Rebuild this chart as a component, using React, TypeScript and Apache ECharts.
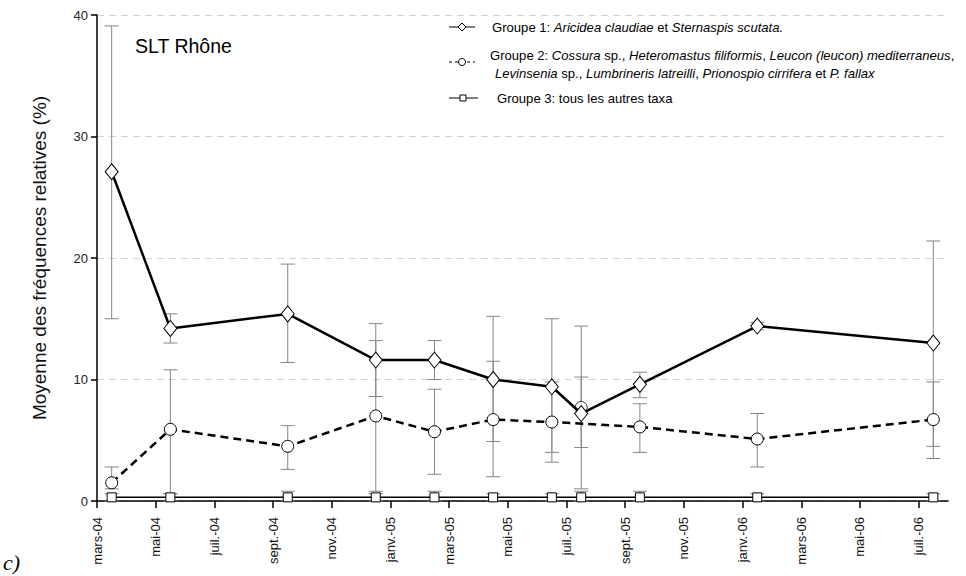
import React, { useEffect, useRef } from "react";
import * as echarts from "echarts";

// Sampling months (plotted at mid-month), month index 0 = mars-04
const sampleMonths = ["2004-03", "2004-05", "2004-09", "2004-12", "2005-02", "2005-04", "2005-06", "2005-07", "2005-09", "2006-01", "2006-07"];

const g1Mean = [27.1, 14.2, 15.4, 11.6, 11.6, 10.0, 9.4, 7.2, 9.6, 14.4, 13.0];
const g1Low = [15.0, 13.0, 11.4, 8.6, 10.0, 4.9, 4.0, 4.4, 8.5, 14.1, 4.5];
const g1High = [39.1, 15.4, 19.5, 14.6, 13.2, 15.2, 15.0, 10.2, 10.6, 14.7, 21.4];

const g2Mean = [1.5, 5.9, 4.5, 7.0, 5.7, 6.7, 6.5, 7.7, 6.1, 5.1, 6.7];
const g2Low = [1.0, 0.6, 2.6, 0.8, 2.2, 2.0, 3.2, 1.0, 4.0, 2.8, 3.5];
const g2High = [2.8, 10.8, 6.2, 13.2, 9.2, 11.5, 9.8, 14.4, 8.0, 7.2, 9.8];
// whether each group-2 point is joined by the dashed line
const g2Joined = [true, true, true, true, true, true, true, false, true, true, true];

const g3Mean = [0.3, 0.3, 0.3, 0.3, 0.3, 0.3, 0.3, 0.3, 0.3, 0.3, 0.3];
const g3Low = [0, 0, 0, 0, 0, 0, 0, 0, 0, 0, 0];
const g3High = [0.6, 0.6, 0.8, 0.6, 0.8, 0.6, 0.6, 0.8, 0.8, 0.6, 0.6];

const xTickLabels = ["mars-04", "mai-04", "juil.-04", "sept.-04", "nov.-04", "janv.-05", "mars-05", "mai-05", "juil.-05", "sept.-05", "nov.-05", "janv.-06", "mars-06", "mai-06", "juil.-06"];
const yTicks = [0, 10, 20, 30, 40];

const FONT = "Liberation Sans, Arial, sans-serif";
const LEG = 13.1;

function monthPos(ym: string): number {
  const [y, m] = ym.split("-").map(Number);
  return (y - 2004) * 12 + (m - 3) + 0.5;
}

export default function App() {
  const ref = useRef<HTMLDivElement>(null);
  useEffect(() => {
    document.body.style.margin = "0";
    if (!ref.current) return;
    const chart = echarts.init(ref.current, null, { renderer: "svg" });
    const xs = sampleMonths.map(monthPos);
    const errData = (lo: number[], hi: number[]) => xs.map((x, i) => [x, lo[i], hi[i]]);
    const allErr = [...errData(g1Low, g1High), ...errData(g2Low, g2High), ...errData(g3Low, g3High)];
    const tickVals = xTickLabels.map((_, i) => i * 2);

    const errSeries = {
      type: "custom",
      z: 1,
      silent: true,
      data: allErr,
      encode: { x: 0, y: [1, 2] },
      renderItem: (params: any, api: any) => {
        const x = api.value(0);
        const pHi = api.coord([x, api.value(2)]);
        const pLo = api.coord([x, api.value(1)]);
        const hw = 7;
        const st = { stroke: "#858585", lineWidth: 1 };
        return {
          type: "group",
          children: [
            { type: "line", shape: { x1: pHi[0], y1: pHi[1], x2: pLo[0], y2: pLo[1] }, style: st },
            { type: "line", shape: { x1: pHi[0] - hw, y1: pHi[1], x2: pHi[0] + hw, y2: pHi[1] }, style: st },
            { type: "line", shape: { x1: pLo[0] - hw, y1: pLo[1], x2: pLo[0] + hw, y2: pLo[1] }, style: st },
          ],
        };
      },
    };

    const markerStyle = { color: "#fff", borderColor: "#000", borderWidth: 1 };
    const italic = { i: { fontStyle: "italic", fontSize: LEG, fontFamily: FONT, fill: "#000" } };

    const option: any = {
      animation: false,
      grid: { left: 97, right: 18, top: 15, bottom: 75 },
      xAxis: {
        type: "value",
        min: 0,
        max: 29,
        interval: 2,
        axisLine: { lineStyle: { color: "#000", width: 1.5 } },
        axisTick: { length: 7, lineStyle: { color: "#000", width: 1.5 }, customValues: tickVals },
        axisLabel: {
          rotate: 90,
          margin: 16,
          fontSize: 13,
          fontFamily: FONT,
          color: "#111",
          customValues: tickVals,
          formatter: (v: number) => xTickLabels[Math.round(v / 2)] ?? "",
        },
        splitLine: { show: false },
      },
      yAxis: {
        type: "value",
        min: 0,
        max: 40,
        interval: 10,
        name: "Moyenne des fréquences relatives (%)",
        nameLocation: "middle",
        nameGap: 48,
        nameTextStyle: { fontSize: 19, fontFamily: FONT, color: "#111" },
        axisLine: { show: true, lineStyle: { color: "#000", width: 1.5 } },
        axisTick: { show: true, length: 6, lineStyle: { color: "#000", width: 1.5 } },
        axisLabel: { fontSize: 13, fontFamily: FONT, color: "#222", margin: 9, customValues: yTicks },
        splitLine: { show: true, lineStyle: { color: "#d4d4d4", type: [7, 5], width: 1 } },
      },
      series: [
        errSeries,
        {
          name: "Groupe 3",
          type: "line",
          z: 2,
          data: xs.map((x, i) => [x, g3Mean[i]]),
          symbol: "rect",
          symbolSize: 9,
          itemStyle: markerStyle,
          lineStyle: { color: "#000", width: 1.5 },
        },
        {
          name: "Groupe 2",
          type: "line",
          z: 3,
          connectNulls: true,
          data: xs.map((x, i) => (g2Joined[i] ? [x, g2Mean[i]] : [x, null])),
          symbol: "circle",
          symbolSize: 12,
          itemStyle: markerStyle,
          lineStyle: { color: "#000", width: 2.5, type: [8, 5] },
        },
        {
          name: "Groupe 2 (isolé)",
          type: "scatter",
          z: 3,
          data: xs.map((x, i) => [x, g2Mean[i]]).filter((_, i) => !g2Joined[i]),
          symbol: "circle",
          symbolSize: 12,
          itemStyle: markerStyle,
        },
        {
          name: "Groupe 1",
          type: "line",
          z: 4,
          data: xs.map((x, i) => [x, g1Mean[i]]),
          symbol: "diamond",
          symbolSize: [13, 16],
          itemStyle: markerStyle,
          lineStyle: { color: "#000", width: 2.5 },
        },
      ],
      graphic: [
        { type: "text", left: 135, top: 36, style: { text: "SLT Rhône", fontSize: 19.5, fontFamily: FONT, fill: "#000" } },
        // legend row 1
        { type: "line", shape: { x1: 449, y1: 27, x2: 475, y2: 27 }, style: { stroke: "#000", lineWidth: 1 } },
        { type: "polygon", shape: { points: [[462, 23], [466, 27], [462, 31], [458, 27]] }, style: { fill: "#fff", stroke: "#000", lineWidth: 1 } },
        {
          type: "text", x: 492, y: 27,
          style: {
            text: "Groupe 1: {i|Aricidea claudiae} et {i|Sternaspis scutata.}",
            fontSize: LEG, fontFamily: FONT, fill: "#000", verticalAlign: "middle", rich: italic,
          },
        },
        // legend row 2
        { type: "line", shape: { x1: 449, y1: 62, x2: 475, y2: 62 }, style: { stroke: "#000", lineWidth: 1, lineDash: [3, 3] } },
        { type: "circle", shape: { cx: 462, cy: 62, r: 3.5 }, style: { fill: "#fff", stroke: "#000", lineWidth: 1 } },
        {
          type: "text", x: 490, y: 55,
          style: {
            text: "Groupe 2: {i|Cossura} sp., {i|Heteromastus filiformis}, {i|Leucon (leucon) mediterraneus},",
            fontSize: LEG, fontFamily: FONT, fill: "#000", verticalAlign: "middle", rich: italic,
          },
        },
        {
          type: "text", x: 495, y: 73,
          style: {
            text: "{i|Levinsenia} sp., {i|Lumbrineris latreilli}, {i|Prionospio cirrifera} et {i|P. fallax}",
            fontSize: LEG, fontFamily: FONT, fill: "#000", verticalAlign: "middle", rich: italic,
          },
        },
        // legend row 3
        { type: "line", shape: { x1: 449, y1: 98, x2: 478, y2: 98 }, style: { stroke: "#000", lineWidth: 1 } },
        { type: "rect", shape: { x: 460, y: 95, width: 6, height: 6 }, style: { fill: "#fff", stroke: "#000", lineWidth: 1 } },
        {
          type: "text", x: 497, y: 98,
          style: { text: "Groupe 3: tous les autres taxa", fontSize: LEG, fontFamily: FONT, fill: "#000", verticalAlign: "middle" },
        },
        { type: "text", left: 3, top: 551, style: { text: "c)", fontSize: 22, fontStyle: "italic", fontFamily: "Liberation Serif, serif", fill: "#000" } },
      ],
    };
    chart.setOption(option);
    return () => chart.dispose();
  }, []);
  return <div ref={ref} style={{ width: 966, height: 576 }} />;
}
